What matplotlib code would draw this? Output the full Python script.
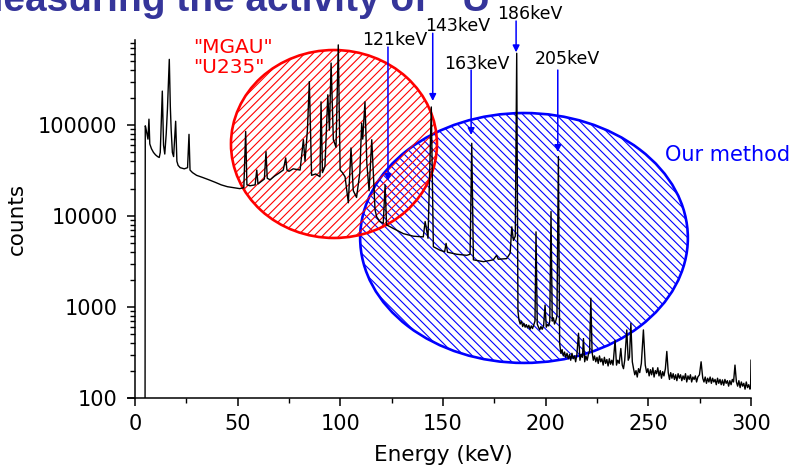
import numpy as np
import matplotlib
matplotlib.use('Agg')
from matplotlib import pyplot as plt
from matplotlib.patches import Ellipse
from matplotlib.ticker import FixedLocator, NullFormatter, FuncFormatter

# Spectrum (energy in keV, counts)
energy_low = [4.9, 5.0, 5.2, 5.8, 6.3, 6.8, 7.2, 8.0, 9.0, 10.0, 11.0, 11.8, 12.3, 13.3, 13.9,
              14.5, 15.2, 15.8, 16.7, 17.2, 17.6, 18.2, 18.8, 19.8, 20.4, 21.0, 22.0, 24.0, 25.6,
              26.3, 26.8, 28.0, 30.0, 33.0, 36.0, 39.0, 42.0, 45.0, 48.0, 51.0, 53.0, 53.9, 54.5,
              56.0, 58.5, 59.3, 59.9, 61.0, 63.0, 63.8, 64.4, 65.8, 68.0, 70.0, 72.2, 73.4, 74.0,
              75.0, 77.0, 80.4, 82.0, 82.8, 84.0, 84.9, 86.0, 88.0, 90.1, 90.6, 91.3, 92.5, 93.9,
              94.7, 95.5, 96.6, 97.9, 99.0, 99.9, 101.0, 102.3, 103.9, 105.2, 106.3, 107.9, 109.5,
              110.4, 110.9, 112.0, 112.9, 114.0, 115.3, 116.9]
counts_low = [100, 98000, 95000, 80000, 70000, 116000, 62000, 55000, 50000, 47000, 45000, 44000,
              50000, 236000, 60000, 48000, 80000, 150000, 527000, 160000, 90000, 50000, 45000,
              110000, 40000, 36000, 34000, 33000, 34000, 79000, 32000, 30000, 28000, 26500, 25000,
              23500, 22000, 21000, 20500, 20000, 20500, 85000, 22000, 21500, 22000, 32000, 22500,
              23500, 25500, 51000, 26000, 25000, 27500, 29500, 32000, 43500, 32000, 31000, 33000,
              32000, 69000, 40000, 90000, 300000, 28000, 29000, 27000, 180000, 30000, 35000,
              215000, 88000, 480000, 69000, 57000, 760000, 32000, 30000, 27000, 14000, 56000,
              19000, 16000, 30000, 105000, 70000, 180000, 38000, 19000, 69000, 11700]

energy_mid = [117.7, 119.3, 120.9, 121.8, 122.5, 125.8, 130.7, 135.6, 140.4, 141.3, 142.7, 144.3,
              145.3, 148.6, 150.8, 151.5, 152.2, 156.7, 161.6, 163.2, 164.0, 164.8, 169.7, 174.5,
              176.1, 176.9, 181.0, 182.7, 183.5, 184.3, 185.2, 185.9, 186.5]
counts_mid = [9800, 8700, 8300, 22000, 8000, 7300, 6400, 6000, 5900, 8700, 5700, 158000,
              4600, 4200, 4050, 5000, 4000, 3800, 3700, 3800, 63000, 3300, 3150, 3300,
              3700, 3350, 3400, 3900, 7600, 5400, 6000, 615000, 900]

energy_high = [187.0, 187.6, 188.2, 188.8, 189.4, 190.0, 190.6, 191.2, 191.8, 192.4, 193.0, 193.6,
               194.2, 194.8, 195.3, 195.9, 196.5, 197.1, 197.7, 198.3, 199.0, 199.7, 200.3, 200.9,
               201.5, 202.0, 202.6, 203.2, 203.8, 204.3, 204.9, 205.5, 206.2, 206.8, 207.4, 208.0,
               208.6, 209.2, 209.8, 210.4, 211.0, 211.6, 212.2, 212.8, 213.4, 214.0, 214.6, 215.2,
               216.0, 216.7, 217.3, 217.9, 218.4, 219.0, 219.6, 220.2, 220.8, 221.4, 222.0, 222.6,
               223.2, 223.8, 224.4, 225.0, 225.6, 226.2, 226.8, 227.4, 228.0, 228.6, 229.2, 229.8,
               230.4, 231.0, 231.6, 232.2, 232.8, 233.8, 234.5, 235.1, 235.8, 236.6, 237.3, 237.9,
               238.5, 239.5, 240.2, 240.8, 241.5, 242.2, 242.8, 243.4, 244.0, 244.6, 245.2, 245.8,
               246.6, 247.6, 248.5, 249.2, 249.8, 250.4, 251.0, 251.6, 252.2, 252.8, 253.4, 254.0,
               254.6, 255.2, 255.8, 256.4, 257.0, 257.6, 258.3, 259.0, 259.7, 260.3, 260.9, 261.5,
               262.1, 262.7, 263.3, 263.9, 264.5, 265.1, 265.7, 266.3, 266.9, 267.5, 268.1, 268.7,
               269.3, 269.9, 270.5, 271.1, 271.7, 272.3, 272.9, 273.5, 274.1, 274.9, 275.7, 276.5,
               277.1, 277.7, 278.3, 278.9, 279.5, 280.1, 280.7, 281.3, 281.9, 282.5, 283.1, 283.7,
               284.3, 284.9, 285.5, 286.1, 286.7, 287.3, 287.9, 288.5, 289.1, 289.7, 290.3, 290.9,
               291.5, 292.2, 292.9, 293.5, 294.1, 294.7, 295.3, 295.9, 296.5, 297.1, 297.7, 298.3,
               298.9, 299.5, 299.8, 300.0]
counts_high = [720, 650, 700, 610, 660, 600, 640, 590, 630, 570, 620, 580,
               640, 700, 6700, 650, 600, 560, 610, 570, 620, 1050, 600, 640,
               620, 700, 11200, 700, 760, 650, 700, 800, 45000, 400, 310, 340,
               290, 320, 280, 310, 270, 300, 260, 310, 270, 290, 250, 300,
               515, 260, 300, 280, 450, 250, 290, 260, 300, 330, 1250, 320,
               260, 290, 250, 280, 240, 290, 250, 270, 230, 280, 240, 265,
               225, 270, 235, 260, 230, 430, 230, 260, 240, 350, 230, 210,
               260, 560, 260, 280, 660, 250, 210, 180, 200, 170, 210, 190,
               240, 560, 230, 190, 210, 175, 205, 180, 215, 170, 200, 185,
               215, 175, 200, 165, 195, 175, 210, 325, 190, 160, 190, 165,
               185, 160, 180, 155, 185, 165, 180, 155, 175, 160, 185, 150,
               175, 160, 180, 150, 170, 160, 175, 150, 170, 180, 250, 165,
               150, 170, 145, 165, 150, 170, 145, 165, 150, 160, 140, 165,
               145, 160, 140, 158, 138, 160, 145, 155, 135, 155, 140, 160,
               150, 230, 150, 135, 155, 130, 150, 135, 145, 125, 150, 130,
               140, 125, 130, 260]

# Peak labels: text position and arrow (start, tip)
peak_labels = ['121keV', '143keV', '163keV', '186keV', '205keV']
label_x = [126.4, 157.1, 166.3, 192.4, 210.4]
label_y = [860000, 1240000, 474000, 1640000, 538000]
arrow_x = [123.2, 145.0, 163.7, 185.6, 205.9]
arrow_top = [719000, 1020000, 402000, 1390000, 402000]
arrow_tip = [24300, 184000, 77700, 630000, 50500]

y_ticks = [100, 1000, 10000, 100000]
x_ticks = [0, 50, 100, 150, 200, 250, 300]

energy = energy_low + energy_mid + energy_high
counts = counts_low + counts_mid + counts_high

fig = plt.figure(figsize=(7.97, 4.68), dpi=100)
ax = fig.add_axes([135 / 797, 70 / 468, 616 / 797, 358 / 468])

ax.set_yscale('log')
ax.set_xlim(0, 300)
ax.set_ylim(100, 860000)

plt.rcParams['hatch.linewidth'] = 0.8

# Highlighted regions (axes fractions)
red = Ellipse((0.323, 0.7095), 0.3344, 0.525, transform=ax.transAxes, facecolor='none',
              edgecolor='#ff0000', hatch='////', lw=1.9, zorder=2, clip_on=False)
blue = Ellipse((0.6315, 0.447), 0.532, 0.698, transform=ax.transAxes, facecolor='none',
               edgecolor='#0000ff', hatch='\\\\\\\\', lw=1.9, zorder=2, clip_on=False)
ax.add_patch(blue)
ax.add_patch(red)

ax.plot(energy, counts, color='black', lw=1.0, zorder=3)

for lab, lx, ly, axx, at, tip in zip(peak_labels, label_x, label_y, arrow_x, arrow_top, arrow_tip):
    ax.text(lx, ly, lab, ha='center', va='center', fontsize=12.5, color='black')
    ax.annotate('', xy=(axx, tip), xytext=(axx, at),
                arrowprops=dict(arrowstyle='-|>', color='#0000ff', lw=1.1,
                                mutation_scale=10, shrinkA=0, shrinkB=0),
                annotation_clip=False, zorder=4)

ax.text(28.3, 550000, '"MGAU"\n"U235"', ha='left', va='center', fontsize=14.5,
        color='#ff0000', linespacing=1.1)
ax.text(288.4, 46700, 'Our method', ha='center', va='center', fontsize=15, color='#0000ff')

# Axes styling
for side in ['top', 'right']:
    ax.spines[side].set_visible(False)
for side in ['left', 'bottom']:
    ax.spines[side].set_linewidth(1.1)
ax.spines['bottom'].set_bounds(-3.5, 300)

ax.yaxis.set_major_locator(FixedLocator(y_ticks))
minor = [m * 10 ** d for d in range(2, 6) for m in range(2, 10)]
ax.yaxis.set_minor_locator(FixedLocator(minor))
ax.yaxis.set_minor_formatter(NullFormatter())
ax.yaxis.set_major_formatter(FuncFormatter(lambda v, p: '%d' % v))
ax.xaxis.set_major_locator(FixedLocator(x_ticks))
ax.xaxis.set_minor_locator(FixedLocator([25, 75, 125, 175, 225, 275]))

ax.tick_params(axis='both', which='major', direction='out', length=5.5, width=1.1,
               labelsize=15, pad=6)
ax.tick_params(axis='both', which='minor', direction='out', length=3.5, width=1.0)
ax.tick_params(axis='y', which='major', pad=7)

ax.set_xlabel('Energy (keV)', fontsize=15.5, labelpad=8)
ax.set_ylabel('counts', fontsize=15.5, labelpad=8)

# Title, mostly cut off at the top in the reference
title_color = '#35359a'
fig.text(427 / 797, 1 - 11 / 468, 'Measuring the activity of', ha='right', va='baseline',
         fontsize=28, fontweight='bold', color=title_color, family='Liberation Sans')
fig.text(462 / 797, 1 - 11 / 468, 'U', ha='left', va='baseline',
         fontsize=28, fontweight='bold', color=title_color, family='Liberation Sans')

fig.savefig('out.png', dpi=100)
